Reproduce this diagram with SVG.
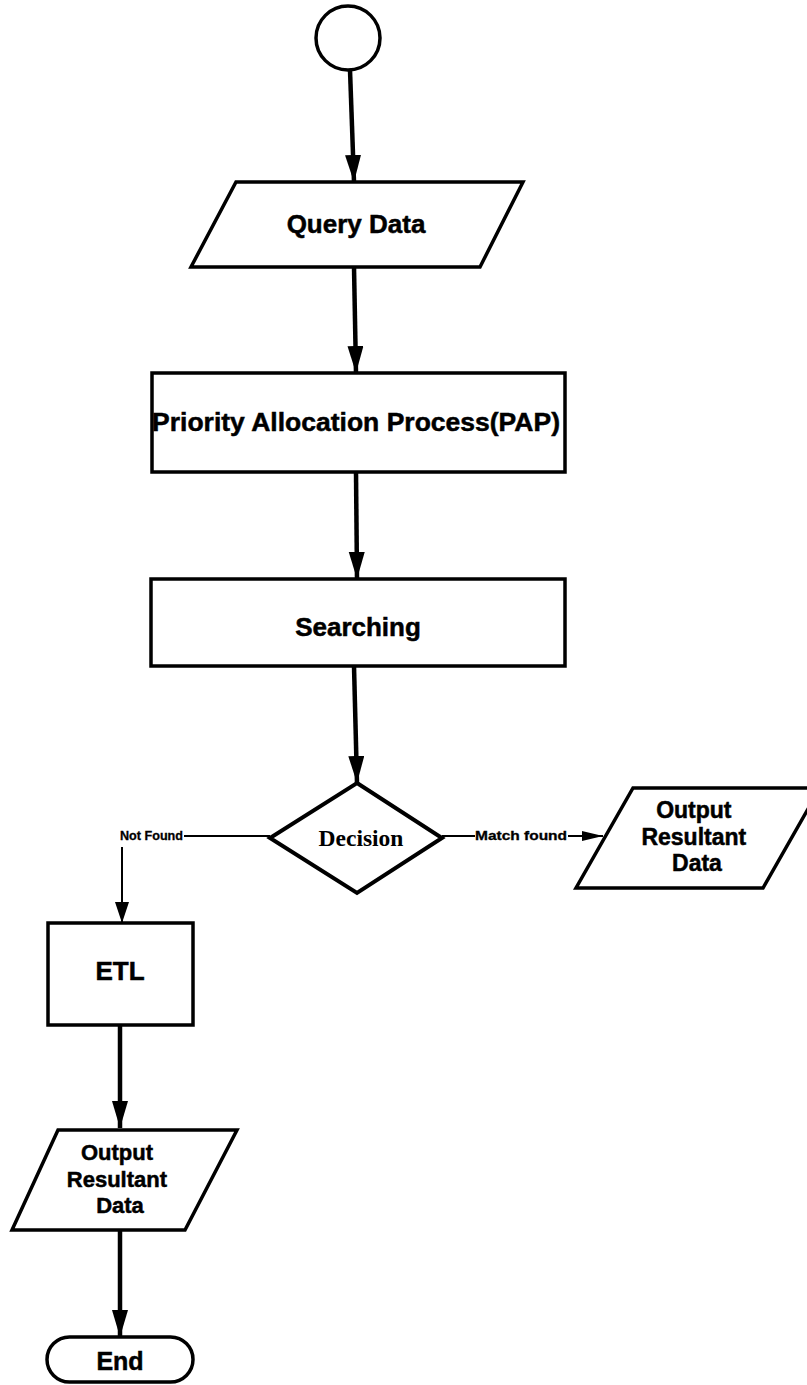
<svg xmlns="http://www.w3.org/2000/svg" width="807" height="1385" viewBox="0 0 807 1385">
  <style>
    .shape { fill: #ffffff; stroke: #000000; stroke-width: 3.5; stroke-linejoin: miter; }
    .heavy { stroke-width: 4; }
    .lbl { font-family: "Liberation Sans", Arial, sans-serif; font-weight: bold; fill: #000000; stroke: #000000; stroke-width: 0.5; text-anchor: middle; }
    .small { font-family: "Liberation Sans", Arial, sans-serif; font-weight: bold; fill: #000000; stroke: #000000; stroke-width: 0.3; font-size: 12.5px; }
    .serif { font-family: "Liberation Serif", "Times New Roman", serif; font-weight: bold; fill: #000000; text-anchor: middle; }
    .flow { fill: none; stroke: #000000; stroke-width: 4.5; }
    .thin { fill: none; stroke: #000000; stroke-width: 2; }
  </style>
  <defs>
    <marker id="bigArrow" markerUnits="userSpaceOnUse" markerWidth="28" markerHeight="18" refX="27" refY="8" orient="auto">
      <path d="M0,0 L27,8 L0,16 z" fill="#000000"/>
    </marker>
    <marker id="midArrow" markerUnits="userSpaceOnUse" markerWidth="22" markerHeight="16" refX="21" refY="7" orient="auto">
      <path d="M0,0 L21,7 L0,14 z" fill="#000000"/>
    </marker>
    <marker id="smallArrow" markerUnits="userSpaceOnUse" markerWidth="22" markerHeight="12" refX="21" refY="5" orient="auto">
      <path d="M0,0 L21,5 L0,10 z" fill="#000000"/>
    </marker>
  </defs>

  <rect x="0" y="0" width="807" height="1385" fill="#ffffff"/>

  <!-- connectors -->
  <g id="connectors">
    <path class="flow" d="M350,70 L354,182" marker-end="url(#bigArrow)"/>
    <path class="flow" d="M354,267 L356,373" marker-end="url(#bigArrow)"/>
    <path class="flow" d="M356,472 L357,579" marker-end="url(#bigArrow)"/>
    <path class="flow" d="M354,666 L357,783" marker-end="url(#bigArrow)"/>
    <!-- no-match branch -->
    <path class="thin" d="M184,836 L270,836"/>
    <path class="thin" d="M122,847 L122,923" marker-end="url(#midArrow)"/>
    <!-- match branch -->
    <path class="thin" d="M442,836 L475,836"/>
    <path class="thin" d="M568,836 L603,836" marker-end="url(#smallArrow)"/>
    <path class="flow" d="M120,1025 L120,1128" marker-end="url(#bigArrow)"/>
    <path class="flow" d="M120,1230 L120,1337" marker-end="url(#bigArrow)"/>
    <text class="small" x="120" y="840" textLength="63" lengthAdjust="spacingAndGlyphs">Not Found</text>
    <text class="small" x="475" y="840" textLength="92" lengthAdjust="spacingAndGlyphs">Match found</text>
  </g>

  <!-- start terminal -->
  <g id="start">
    <circle class="shape" cx="348" cy="38" r="32"/>
  </g>

  <g id="query-data">
    <polygon class="shape" points="236,182 523,182 480,267 191,267"/>
    <text class="lbl" x="356" y="233" font-size="26">Query Data</text>
  </g>

  <g id="pap">
    <rect class="shape" x="152" y="373" width="413" height="99"/>
    <text class="lbl" x="356" y="431" font-size="26.5">Priority Allocation Process(PAP)</text>
  </g>

  <g id="searching">
    <rect class="shape" x="151" y="579" width="414" height="87"/>
    <text class="lbl" x="358" y="636" font-size="26">Searching</text>
  </g>

  <g id="decision">
    <polygon class="shape heavy" points="357,783 442,838 357,893 270,838"/>
    <text class="serif" x="361" y="846" font-size="23.5">Decision</text>
  </g>

  <g id="output-match">
    <polygon class="shape" points="633,788 820,788 763,888 576,888"/>
    <text class="lbl" font-size="23">
      <tspan x="697" y="818">Output</tspan>
      <tspan x="697" y="845">Resultant</tspan>
      <tspan x="697" y="871">Data</tspan>
    </text>
  </g>

  <g id="etl">
    <rect class="shape" x="48" y="923" width="145" height="102"/>
    <text class="lbl" x="120" y="980" font-size="26">ETL</text>
  </g>

  <g id="output-etl">
    <polygon class="shape" points="58,1130 237,1130 185,1230 12,1230"/>
    <text class="lbl" font-size="22">
      <tspan x="120" y="1160">Output</tspan>
      <tspan x="120" y="1187">Resultant</tspan>
      <tspan x="120" y="1213">Data</tspan>
    </text>
  </g>

  <g id="end">
    <rect class="shape" x="47" y="1337" width="146" height="45" rx="22.5" ry="22.5"/>
    <text class="lbl" x="120" y="1370" font-size="25">End</text>
  </g>
</svg>
